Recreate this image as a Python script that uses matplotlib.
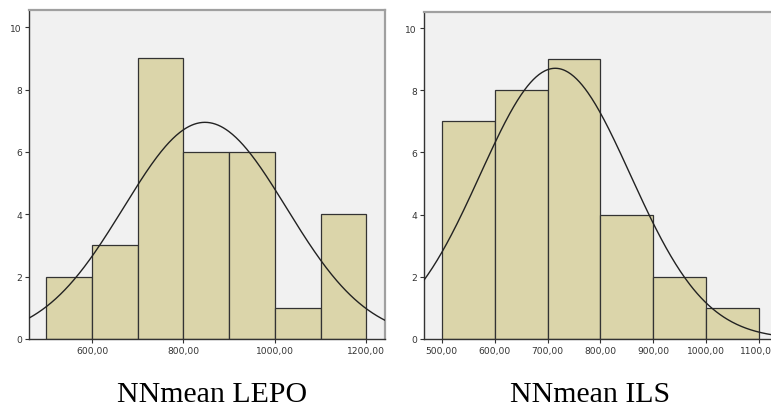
import numpy as np
import matplotlib
matplotlib.use("Agg")
import matplotlib.pyplot as plt

# histogram data
lepo_edges = [500, 600, 700, 800, 900, 1000, 1100, 1200]
lepo_counts = [2, 3, 9, 6, 6, 1, 4]
lepo_mean, lepo_sd = 847.0, 178.0

ils_edges = [500, 600, 700, 800, 900, 1000, 1100]
ils_counts = [7, 8, 9, 4, 2, 1]
ils_mean, ils_sd = 714.5, 142.0

lepo_ticks = [600, 800, 1000, 1200]
ils_ticks = [500, 600, 700, 800, 900, 1000, 1100]
y_ticks = [0, 2, 4, 6, 8, 10]

BAR = "#dbd5aa"
BG = "#f1f1f1"


def draw_hist(ax, edges, counts, mean, sd, xticks, xlim, ylim):
    ax.set_facecolor(BG)
    edges = np.array(edges, dtype=float)
    widths = np.diff(edges)
    ax.bar(edges[:-1], counts, width=widths, align="edge", color=BAR,
           edgecolor="#333333", linewidth=0.9, zorder=2)
    n = sum(counts)
    bw = widths[0]
    xs = np.linspace(xlim[0], xlim[1], 400)
    ys = n * bw / (sd * np.sqrt(2 * np.pi)) * np.exp(-0.5 * ((xs - mean) / sd) ** 2)
    ax.plot(xs, ys, color="#222222", linewidth=1.0, zorder=3)
    ax.set_xlim(*xlim)
    ax.set_ylim(*ylim)
    ax.set_xticks(xticks)
    ax.set_xticklabels([f"{t:.2f}".replace(".", ",") for t in xticks])
    ax.set_yticks(y_ticks)
    ax.tick_params(axis="both", labelsize=6.6, length=3, width=0.8,
                   colors="#333333", pad=2)
    for s in ("left", "bottom"):
        ax.spines[s].set_color("#333333")
        ax.spines[s].set_linewidth(1.0)
    for s in ("top", "right"):
        ax.spines[s].set_color("#a0a0a0")
        ax.spines[s].set_linewidth(1.6)


fig = plt.figure(figsize=(7.71, 4.14), dpi=100)

ax1 = fig.add_axes([29 / 771, 1 - 340 / 414, 356 / 771, 329 / 414])
draw_hist(ax1, lepo_edges, lepo_counts, lepo_mean, lepo_sd, lepo_ticks,
          (462, 1241), (0, 10.55))

ax2 = fig.add_axes([424 / 771, 1 - 340 / 414, 376 / 771, 327 / 414])
draw_hist(ax2, ils_edges, ils_counts, ils_mean, ils_sd, ils_ticks,
          (466.5, 1177), (0, 10.52))

fig.text(212 / 771, 1 - 395 / 414, "NNmean LEPO", ha="center", va="center",
         fontsize=21.5, family="Liberation Serif")
fig.text(590 / 771, 1 - 395 / 414, "NNmean ILS", ha="center", va="center",
         fontsize=21.5, family="Liberation Serif")

fig.savefig("out.png", dpi=100)
